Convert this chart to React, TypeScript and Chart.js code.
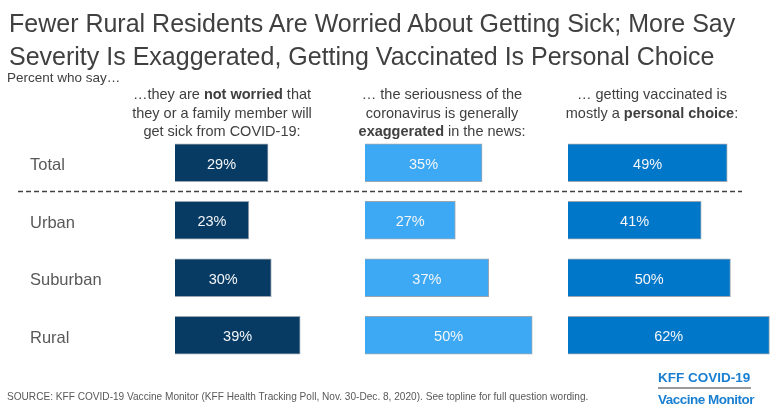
import React, { useEffect, useRef } from "react";
import { Chart, registerables } from "chart.js";

Chart.register(...registerables);

const categories = ["Total", "Urban", "Suburban", "Rural"];
const notWorried = [29, 23, 30, 39];
const exaggerated = [35, 27, 37, 50];
const personalChoice = [49, 41, 50, 62];

const FONT = '"Liberation Sans", Arial, Helvetica, sans-serif';

const barLabels = {
  id: "barLabels",
  afterDatasetsDraw(chart: any) {
    const ctx = chart.ctx;
    ctx.save();
    ctx.font = `14.5px ${FONT}`;
    ctx.fillStyle = "#f4f6f8";
    ctx.textAlign = "center";
    ctx.textBaseline = "middle";
    chart.data.datasets.forEach((ds: any, di: number) => {
      const meta = chart.getDatasetMeta(di);
      meta.data.forEach((el: any, i: number) => {
        const cx = (el.x + el.base) / 2;
        ctx.fillText(`${ds.data[i]}%`, cx, el.y + 2);
      });
    });
    ctx.restore();
  },
};

const divider = {
  id: "divider",
  afterDraw(chart: any) {
    const y = chart.scales.y;
    const py = (y.getPixelForValue(0) + y.getPixelForValue(1)) / 2;
    const ctx = chart.ctx;
    ctx.save();
    ctx.strokeStyle = "#404040";
    ctx.lineWidth = 1.4;
    ctx.setLineDash([5, 3]);
    ctx.beginPath();
    ctx.moveTo(18, py);
    ctx.lineTo(742, py);
    ctx.stroke();
    ctx.restore();
  },
};

export default function App() {
  const ref = useRef<HTMLCanvasElement | null>(null);

  useEffect(() => {
    if (!ref.current) return;
    const xAxis = (max: number, weight: number) => ({
      type: "linear" as const,
      position: "bottom" as const,
      display: false,
      min: 0,
      max,
      stack: "panels",
      stackWeight: weight,
    });
    const chart = new Chart(ref.current, {
      type: "bar",
      data: {
        labels: categories,
        datasets: [
          {
            label: "Not worried",
            data: notWorried,
            xAxisID: "x1",
            backgroundColor: "#073b63",
            borderColor: "#9aa6b2",
            borderWidth: 1,
          },
          {
            label: "Exaggerated",
            data: exaggerated,
            xAxisID: "x2",
            backgroundColor: "#3da9f4",
            borderColor: "#9aa6b2",
            borderWidth: 1,
          },
          {
            label: "Personal choice",
            data: personalChoice,
            xAxisID: "x3",
            backgroundColor: "#0077c9",
            borderColor: "#9aa6b2",
            borderWidth: 1,
          },
        ],
      },
      options: {
        indexAxis: "y",
        responsive: false,
        animation: false,
        grouped: false,
        barThickness: 38,
        layout: { padding: { left: 30, top: 134, right: 6, bottom: 48 } },
        plugins: {
          legend: { display: false },
          tooltip: { enabled: false },
        },
        scales: {
          x1: xAxis(59.2, 190),
          x2: xAxis(60.7, 203),
          x3: xAxis(63.1, 205),
          y: {
            type: "category",
            position: "left",
            grid: { display: false },
            border: { display: false },
            ticks: {
              crossAlign: "far",
              color: "#595959",
              font: { family: FONT, size: 16.5 },
              padding: 0,
              labelOffset: 3,
            },
            afterFit(scale: any) {
              scale.width = 145;
            },
          },
        },
      } as any,
      plugins: [barLabels, divider],
    });
    return () => chart.destroy();
  }, []);

  const wrap: React.CSSProperties = {
    position: "absolute",
    left: 0,
    top: 0,
    width: 779,
    height: 412,
    background: "#ffffff",
    fontFamily: FONT,
    overflow: "hidden",
  };
  const header = (center: number): React.CSSProperties => ({
    position: "absolute",
    left: center - 115,
    width: 230,
    top: 85,
    textAlign: "center",
    fontSize: 14.5,
    lineHeight: "18.5px",
    color: "#404040",
    whiteSpace: "nowrap",
  });

  return (
    <div style={wrap}>
      <canvas ref={ref} width={779} height={412} style={{ position: "absolute", left: 0, top: 0 }} />
      <div
        style={{
          position: "absolute",
          left: 9,
          top: 7,
          fontSize: 25,
          lineHeight: "33px",
          color: "#404040",
          whiteSpace: "nowrap",
        }}
      >
        Fewer Rural Residents Are Worried About Getting Sick; More Say
        <br />
        Severity Is Exaggerated, Getting Vaccinated Is Personal Choice
      </div>
      <div
        style={{
          position: "absolute",
          left: 7,
          top: 70,
          fontSize: 13.5,
          lineHeight: "16px",
          color: "#404040",
        }}
      >
        Percent who say…
      </div>
      <div style={header(222)}>
        …they are <b>not worried</b> that
        <br />
        they or a family member will
        <br />
        get sick from COVID-19:
      </div>
      <div style={header(442)}>
        … the seriousness of the
        <br />
        coronavirus is generally
        <br />
        <b>exaggerated</b> in the news:
      </div>
      <div style={header(652)}>
        … getting vaccinated is
        <br />
        mostly a <b>personal choice</b>:
      </div>
      <div
        style={{
          position: "absolute",
          left: 7,
          top: 390,
          fontSize: 10.1,
          lineHeight: "14px",
          color: "#595959",
          whiteSpace: "nowrap",
        }}
      >
        SOURCE: KFF COVID-19 Vaccine Monitor (KFF Health Tracking Poll, Nov. 30-Dec. 8, 2020). See topline for full question wording.
      </div>
      <div
        style={{
          position: "absolute",
          left: 658,
          top: 370,
          width: 100,
          fontSize: 13.5,
          fontWeight: 700,
          lineHeight: "16px",
          color: "#1a7fd0",
          whiteSpace: "nowrap",
        }}
      >
        <div>KFF COVID-19</div>
        <div style={{ height: 2, background: "#9a9a9a", margin: "1px 0 3px 0", width: 93 }} />
        <div style={{ letterSpacing: "-0.5px" }}>Vaccine Monitor</div>
      </div>
    </div>
  );
}
